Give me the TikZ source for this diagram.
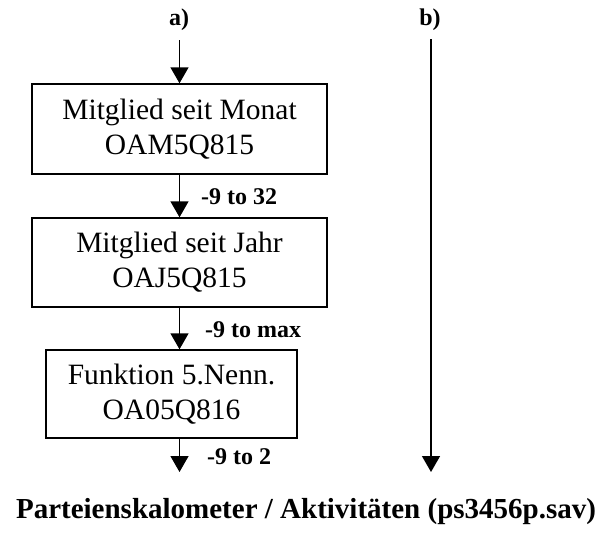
\documentclass[tikz,border=0pt]{standalone}
\usepackage{fontspec}
\setmainfont{Liberation Serif}
\usetikzlibrary{arrows.meta}
\tikzset{
  varbox/.style={draw,line width=1.4pt,inner sep=0pt,align=center,
    font=\fontsize{29.5}{35}\selectfont},
  flow/.style={line width=1.4pt,-{Triangle[width=18pt,length=16pt]}},
  rangelabel/.style={anchor=west,inner sep=0pt,font=\fontsize{24}{28}\selectfont\bfseries},
}
\begin{document}
\begin{tikzpicture}[x=1pt,y=-1pt]
\useasboundingbox (0,0) rectangle (609,533);
\path node[rangelabel,anchor=center] (a) at (179,20) {a)}
node[rangelabel,anchor=center] (b) at (430,20) {b)}
node[varbox,minimum width=295pt,minimum height=90pt] (OAM) at (179.5,129) {Mitglied seit Monat\\OAM5Q815}
node[varbox,minimum width=295pt,minimum height=89pt] (OAJ) at (179.5,262.5) {Mitglied seit Jahr\\OAJ5Q815}
node[varbox,minimum width=251pt,minimum height=88pt] (OA05) at (171.5,394) {Funktion 5.Nenn.\\OA05Q816}
node[rangelabel] (r32) at (201,197) {-9 to 32}
node[rangelabel] (rmax) at (205,330) {-9 to max}
node[rangelabel] (r2) at (207,457) {-9 to 2}
node[anchor=center,font=\fontsize{29}{34}\selectfont\bfseries] (title) at (306,512) {Parteienskalometer / Aktivitäten (ps3456p.sav)}
;
\coordinate (atop) at (179.5,40);
\coordinate (aend) at (179.5,472);
\coordinate (btop) at (431,39);
\coordinate (bend) at (431,472);
\draw[flow]   (atop) -- (OAM.north);
\draw[flow]   (OAM.south) -- (OAJ.north);
\draw[flow]   (OAJ.south) -- (OAJ.south |- OA05.north);
\draw[flow]   (OAJ.south |- OA05.south) -- (aend);
\draw[flow]   (btop) -- (bend);
\end{tikzpicture}
\end{document}
